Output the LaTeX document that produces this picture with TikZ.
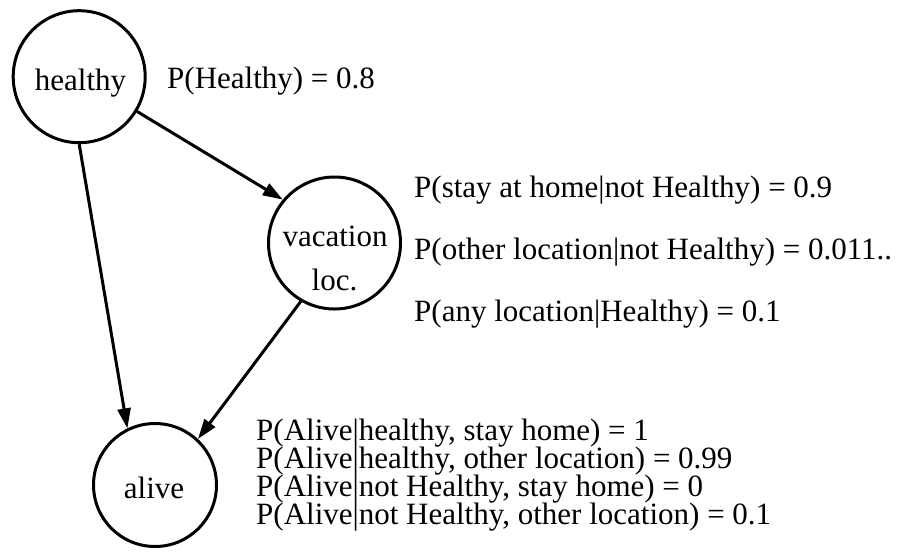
\documentclass[tikz,border=0pt]{standalone}
\usepackage{fontspec}
\setmainfont{Liberation Serif}
\usetikzlibrary{arrows.meta}
\begin{document}
\begin{tikzpicture}[x=1pt,y=-1pt,
  var/.style={circle,draw,line width=3pt,inner sep=0pt},
  word/.style={font=\fontsize{31}{31}\selectfont,inner sep=0pt,anchor=base},
  prob/.style={font=\fontsize{31}{31}\selectfont,inner sep=0pt,anchor=base west},
  link/.style={line width=3pt,-{Triangle[length=20pt,width=13pt]}}]
\useasboundingbox (0,0) rectangle (901,552);

% variables of the network
\node[var,minimum size=132pt] (healthy)  at (79.2,76.7) {};
\node[var,minimum size=132pt] (vacation) at (334.5,243) {};
\node[var,minimum size=123pt] (alive)    at (155,485)   {};

\node[word] (healthytext) at (80.5,90.7) {healthy};
\node[word] (vacationtext) at (335,246) {vacation};
\node[word] (loctext) at (334.5,290.5) {loc.};
\node[word] (alivetext) at (154,498) {alive};

% dependencies
\draw[link] (healthy.-90) -- (alive.116);
\draw[link] (healthy.-31.4) -- (vacation.140.7);
\draw[link] (vacation.-120.3) -- (alive.47.3);

% probability tables
\node[prob] (phealthy) at (167,88) {P(Healthy) = 0.8};

\node[prob] (pstay)  at (414,197) {P(stay at home|not Healthy) = 0.9};
\node[prob] (pother) at (414,259) {P(other location|not Healthy) = 0.011..};
\node[prob] (pany)   at (414,321) {P(any location|Healthy) = 0.1};

\node[prob] (palive1) at (256,440) {P(Alive|healthy, stay home) = 1};
\node[prob] (palive2) at (256,468) {P(Alive|healthy, other location) = 0.99};
\node[prob] (palive3) at (256,496) {P(Alive|not Healthy, stay home) = 0};
\node[prob] (palive4) at (256,524) {P(Alive|not Healthy, other location) = 0.1};
\end{tikzpicture}
\end{document}
